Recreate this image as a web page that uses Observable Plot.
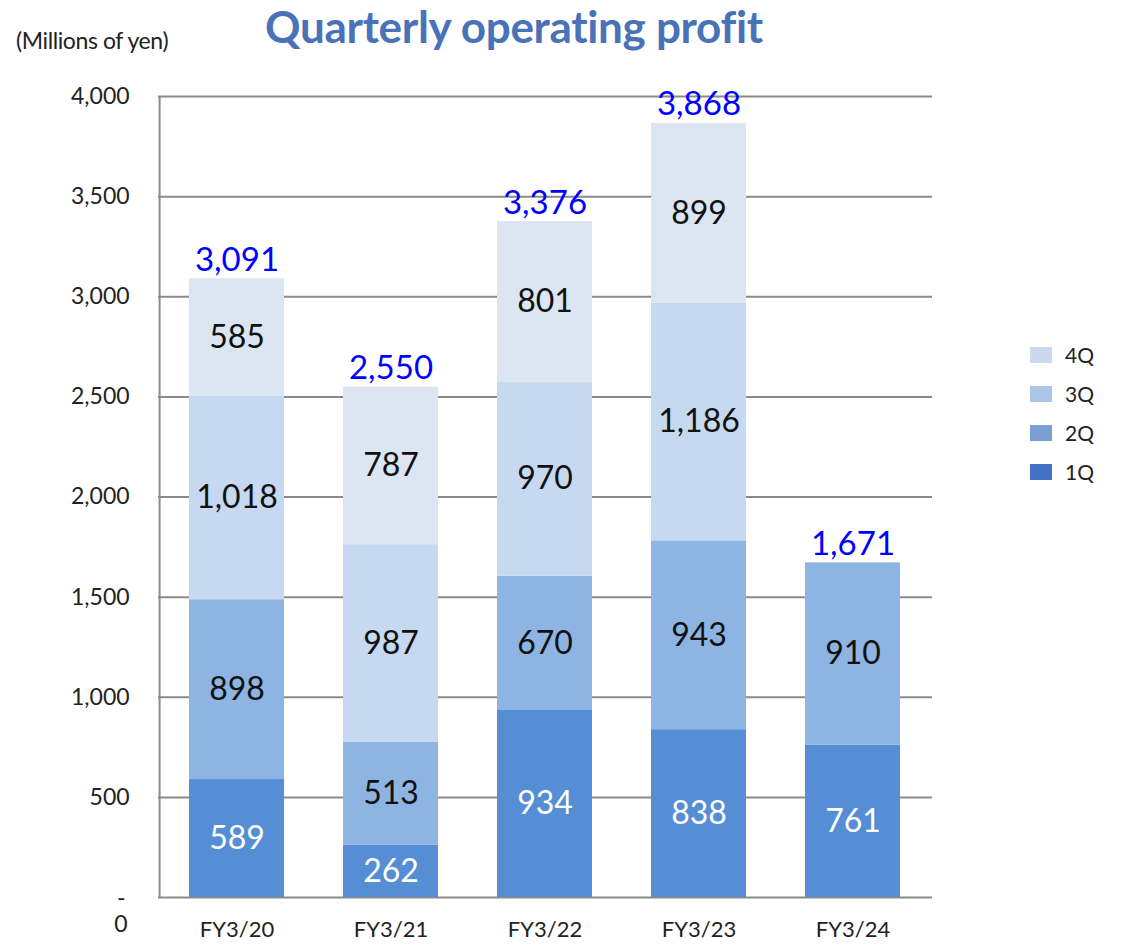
<!DOCTYPE html>
<html>
<head>
<meta charset="utf-8">
<script src="https://cdn.jsdelivr.net/npm/d3@7"></script>
<script src="https://cdn.jsdelivr.net/npm/@observablehq/plot@0.6"></script>
<style>
  html, body { margin: 0; padding: 0; background: #fff; }
  #wrap { position: relative; width: 1123px; height: 944px; font-family: Lato, "Open Sans", sans-serif; }
  #title { position: absolute; left: 0; width: 1028px; top: 0px; text-align: center; font-size: 44px; font-weight: bold; color: #4a72b8; letter-spacing: -0.3px; }
  #unit { position: absolute; left: 16px; top: 26px; font-size: 23px; color: #222; letter-spacing: -0.4px; }
  #legend { position: absolute; left: 1030px; top: 335px; font-size: 21px; color: #222; }
  .li { display: flex; align-items: center; height: 39px; }
  .sw { width: 22px; height: 16px; margin-right: 13px; }
  #chart { position: absolute; left: 0; top: 0; }
</style>
</head>
<body>
<div id="wrap">
  <div id="chart"></div>
  <div id="title">Quarterly operating profit</div>
  <div id="unit">(Millions of yen)</div>
  <div id="legend"></div>
</div>
<script>
const years = ["FY3/20", "FY3/21", "FY3/22", "FY3/23", "FY3/24"];
const quarters = ["1Q", "2Q", "3Q", "4Q"];
const q1 = [589, 262, 934, 838, 761];
const q2 = [898, 513, 670, 943, 910];
const q3 = [1018, 987, 970, 1186, null];
const q4 = [585, 787, 801, 899, null];
const totals = [3091, 2550, 3376, 3868, 1671];
const yTicks = [500, 1000, 1500, 2000, 2500, 3000, 3500, 4000];
const barColors = ["#558ed5", "#8eb4e3", "#c6d9f1", "#dce6f2"];
const legendColors = ["#4472c4", "#7b9fd4", "#adc5e7", "#cbd9ee"];

const series = [q1, q2, q3, q4];
const rows = [];
years.forEach((yr, i) => {
  quarters.forEach((q, j) => {
    const v = series[j][i];
    if (v != null) rows.push({year: yr, quarter: q, value: v});
  });
});
const totalRows = years.map((yr, i) => ({year: yr, total: totals[i]}));
const fmt = d3.format(",");

const stackOpts = {x: "year", y: "value", z: "quarter", order: quarters};
// half a band step: left edge of plot relative to first band centre
const halfStep = (1123 - 158 - 191) / 5 / 2;

const plot = Plot.plot({
  width: 1123,
  height: 944,
  marginLeft: 158,
  marginRight: 191,
  marginTop: 96,
  marginBottom: 47,
  style: {fontFamily: "Lato, 'Open Sans', sans-serif", background: "transparent"},
  x: {domain: years, paddingInner: 0.38, paddingOuter: 0.19, label: null, axis: null},
  y: {domain: [0, 4000], label: null, axis: null},
  color: {domain: quarters, range: barColors},
  marks: [
    Plot.gridY(yTicks, {stroke: "#8a8a8a", strokeOpacity: 1, strokeWidth: 2}),
    Plot.ruleY([0], {stroke: "#8a8a8a", strokeWidth: 2}),
    Plot.ruleX([years[0]], {stroke: "#8a8a8a", strokeWidth: 2, dx: -halfStep, y1: 0, y2: 4000}),
    Plot.barY(rows, Plot.stackY({...stackOpts, fill: "quarter"})),
    Plot.text(rows, Plot.stackY({
      ...stackOpts, text: d => fmt(d.value),
      fill: d => d.quarter === "1Q" ? "#ffffff" : "#111111",
      fontSize: 32
    })),
    Plot.text(totalRows, {x: "year", y: "total", text: d => fmt(d.total), fill: "#0000ff", fontSize: 33, dy: -18}),
    Plot.text(yTicks, {y: d => d, x: () => years[0], text: d => fmt(d), dx: -halfStep - 30, textAnchor: "end", fontSize: 23, fill: "#222"}),
    Plot.text(["-"], {y: () => 0, x: () => years[0], text: d => d, dx: -halfStep - 34, dy: 1, textAnchor: "end", fontSize: 23, fill: "#222"}),
    Plot.text(["0"], {y: () => 0, x: () => years[0], text: d => d, dx: -halfStep - 32, dy: 27, textAnchor: "end", fontSize: 23, fill: "#222"}),
    Plot.text(years, {x: d => d, y: () => 0, text: d => d, dy: 32, fontSize: 22, fill: "#222"})
  ]
});
document.getElementById("chart").appendChild(plot);

const legend = document.getElementById("legend");
[3, 2, 1, 0].forEach(j => {
  const row = document.createElement("div");
  row.className = "li";
  row.innerHTML = `<div class="sw" style="background:${legendColors[j]}"></div><span>${quarters[j]}</span>`;
  legend.appendChild(row);
});
</script>
</body>
</html>
